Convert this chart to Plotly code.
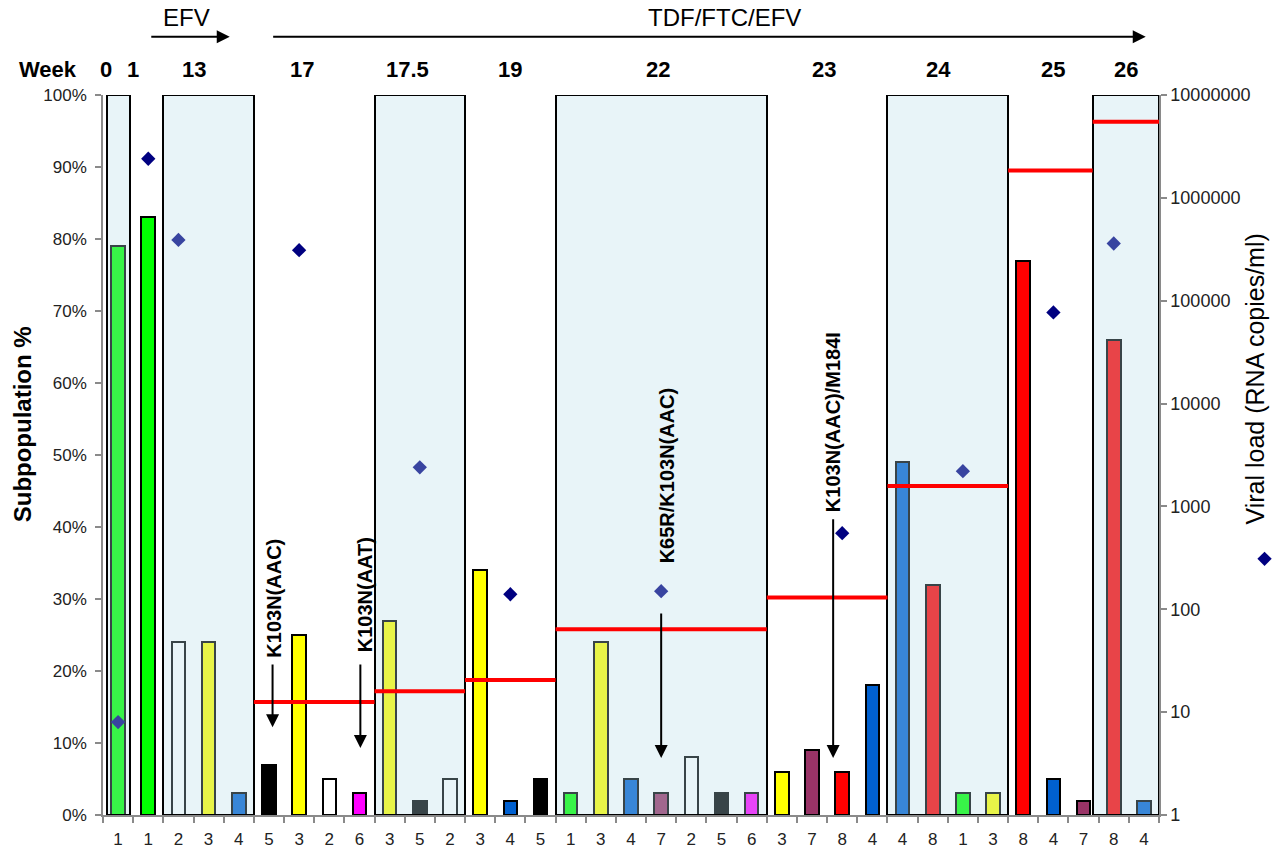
import plotly.graph_objects as go

# ---------------- data ----------------
weeks = ["0", "1", "13", "17", "17.5", "19", "22", "23", "24", "25", "26"]
week_sizes = [1, 1, 3, 4, 3, 3, 7, 4, 4, 3, 2]
week_shaded = [True, False, True, False, True, False, True, False, True, False, True]

# subpopulation id and its share (%) for every clone column
variants = [1, 1, 2, 3, 4, 5, 3, 2, 6, 3, 5, 2, 3, 4, 5, 1, 3, 4, 7, 2, 5, 6,
            3, 7, 8, 4, 4, 8, 1, 3, 8, 4, 7, 8, 4]
subpop_pct = [79, 83, 24, 24, 3, 7, 25, 5, 3, 27, 2, 5, 34, 2, 5, 3, 24, 5, 3, 8,
              3, 3, 6, 9, 6, 18, 49, 32, 3, 3, 77, 5, 2, 66, 2]

# viral load per visit (column where the marker sits, copies/ml)
vl_column = [0, 1, 2, 6, 10, 13, 18, 24, 28, 31, 33]
viral_load = [8, 2400000, 390000, 310000, 2400, 140, 150, 550, 2200, 77000, 360000]

# resistant-fraction level per visit (%), none before week 17
resist_level = [None, None, None, 15.7, 17.2, 18.75, 25.8, 30.2, 45.7, 89.5, 96.3]

mutation_labels = ["K103N(AAC)", "K103N(AAT)", "K65R/K103N(AAC)", "K103N(AAC)/M184I"]

pct_ticks = list(range(0, 101, 10))
vl_ticks = [1, 10, 100, 1000, 10000, 100000, 1000000, 10000000]

# ---------------- styling ----------------
FONT = "Arial, Liberation Sans, sans-serif"
variant_colors = {
    1: "#00ff00", 2: "#ffffff", 3: "#ffff00", 4: "#0060d0",
    5: "#000000", 6: "#ff00ff", 7: "#993366", 8: "#ff0000",
}
n = len(variants)
starts = []
s = 0
for k in week_sizes:
    starts.append(s)
    s += k

# shaded panel edges (column units), with small hand trims
edge_trim = {"0": (0.13, -0.09), "26": (-0.2, 0.0)}
box_x, box_w = [], []
for wk, st, sz, sh in zip(weeks, starts, week_sizes, week_shaded):
    if not sh:
        continue
    a, b = st - 0.5, st + sz - 0.5
    da, db = edge_trim.get(wk, (0, 0))
    a += da
    b += db
    box_x.append((a + b) / 2)
    box_w.append(b - a)

line_x, line_y = [], []
for wk, st, sz, lv in zip(weeks, starts, week_sizes, resist_level):
    if lv is None:
        continue
    a, b = st - 0.5, st + sz - 0.5
    if wk == "26":
        a -= 0.2
    if wk == "25":
        b -= 0.2
    line_x += [a, b, None]
    line_y += [lv, lv, None]

fig = go.Figure()

fig.add_trace(go.Bar(
    x=list(range(n)), y=subpop_pct, width=0.45,
    marker=dict(color=[variant_colors[v] for v in variants],
                line=dict(color="black", width=2)),
    xaxis="x", yaxis="y", showlegend=False, hoverinfo="skip",
))

fig.add_trace(go.Scatter(
    x=vl_column, y=viral_load, mode="markers", name="",
    marker=dict(symbol="diamond", size=11, color="#000080"),
    xaxis="x", yaxis="y2", showlegend=True,
))

fig.add_trace(go.Bar(
    x=box_x, y=[100] * len(box_x), width=box_w, base=0,
    marker=dict(color="rgba(180,220,232,0.31)", line=dict(color="black", width=2)),
    xaxis="x", yaxis="y3", showlegend=False, hoverinfo="skip",
))

fig.add_trace(go.Scatter(
    x=line_x, y=line_y, mode="lines", line=dict(color="#ff0000", width=4),
    xaxis="x", yaxis="y3", showlegend=False, hoverinfo="skip",
))

ann = []


def text_ann(x, y, text, size, xref="x", yref="paper", angle=0, color="black"):
    return dict(x=x, y=y, xref=xref, yref=yref, text=text, showarrow=False,
                xanchor="center", yanchor="middle", textangle=angle,
                font=dict(size=size, color=color, family=FONT))


# week numbers over each visit
week_label_x = [-0.4, 0.5, 2.5, 6.1, 9.6, 13.0, 17.9, 23.4, 27.2, 31.0, 33.4]
ann.append(text_ann(-0.052, 1.035, "<b>Week</b>", 22, xref="paper"))
for wk, xx in zip(weeks, week_label_x):
    ann.append(text_ann(xx, 1.035, f"<b>{wk}</b>", 22))

# treatment arrows
ann.append(text_ann(2.27, 1.107, "EFV", 24))
ann.append(dict(x=3.7, y=1.081, xref="x", yref="paper", text="", showarrow=True,
                axref="x", ax=1.05, ayref="pixel", ay=0, arrowhead=2, arrowsize=1.3,
                arrowwidth=2, arrowcolor="black"))
ann.append(text_ann(20.1, 1.107, "TDF/FTC/EFV", 24))
ann.append(dict(x=34.06, y=1.081, xref="x", yref="paper", text="", showarrow=True,
                axref="x", ax=5.09, ayref="pixel", ay=0, arrowhead=2, arrowsize=1.3,
                arrowwidth=2, arrowcolor="black"))

# mutation call-outs: (arrow x, tail %, tip %, text x, text centre %)
callout_geom = [
    (5.12, 21.1, 12.2, 5.18, 30.1),
    (8.03, 21.1, 9.3, 8.17, 30.6),
    (18.0, 28.2, 7.9, 18.2, 47.2),
    (23.7, 41.3, 7.9, 23.68, 54.5),
]
for label, (axx, tail, tip, tx, ty) in zip(mutation_labels, callout_geom):
    ann.append(dict(x=axx, y=tip, xref="x", yref="y", text="", showarrow=True,
                    axref="x", ax=axx, ayref="y", ay=tail, arrowhead=2, arrowsize=1.3,
                    arrowwidth=2, arrowcolor="black"))
    ann.append(text_ann(tx, ty, f"<b>{label}</b>", 20, yref="y", angle=-90))

# axis titles
ann.append(text_ann(-0.0762, 0.542, "<b>Subpopulation %</b>", 24, xref="paper", angle=-90))
ann.append(text_ann(1.091, 0.605, "Viral load (RNA copies/ml)", 25, xref="paper", angle=-90))

tick_font = dict(size=17, color="#222222", family=FONT)
right_tick_font = dict(size=18, color="#222222", family=FONT)

fig.update_layout(
    width=1276, height=848,
    margin=dict(l=103, r=117, t=95, b=33, autoexpand=False),
    paper_bgcolor="white", plot_bgcolor="white",
    barmode="overlay", bargap=0,
    font=dict(family=FONT),
    annotations=ann,
    showlegend=True,
    legend=dict(x=1.081, y=0.376, xanchor="left", yanchor="top",
                bgcolor="rgba(0,0,0,0)", font=dict(size=10)),
    xaxis=dict(
        range=[-0.5, n - 0.5], tickmode="array", tickvals=list(range(n)),
        ticktext=[str(v) for v in variants], ticks="", tickfont=tick_font,
        showline=True, linecolor="#8a8a8a", linewidth=1.5, layer="below traces",
        showgrid=False, zeroline=False, ticklabelstandoff=8, automargin=False,
        minor=dict(tickmode="array", tickvals=[i - 0.5 for i in range(n + 1)],
                   ticks="outside", ticklen=6, tickcolor="#8a8a8a", tickwidth=1.5,
                   showgrid=False),
    ),
    yaxis=dict(
        range=[0, 100], tickmode="array", tickvals=pct_ticks,
        ticktext=[f"{v}%" for v in pct_ticks], ticks="outside", ticklen=6,
        tickcolor="#8a8a8a", tickwidth=1.5, tickfont=tick_font, ticklabelstandoff=5,
        showline=True, linecolor="#8a8a8a", linewidth=1.5, layer="below traces",
        showgrid=False, zeroline=False, automargin=False,
    ),
    yaxis2=dict(
        type="log", range=[0, 7], overlaying="y", side="right",
        tickmode="array", tickvals=vl_ticks, ticktext=[str(v) for v in vl_ticks],
        ticks="outside", ticklen=6, tickcolor="#8a8a8a", tickwidth=1.5,
        tickfont=right_tick_font, showline=True, linecolor="#8a8a8a", linewidth=1.5,
        showgrid=False, zeroline=False, automargin=False,
    ),
    yaxis3=dict(range=[0, 100], overlaying="y", visible=False, fixedrange=True),
)

fig.write_html("out.html")
